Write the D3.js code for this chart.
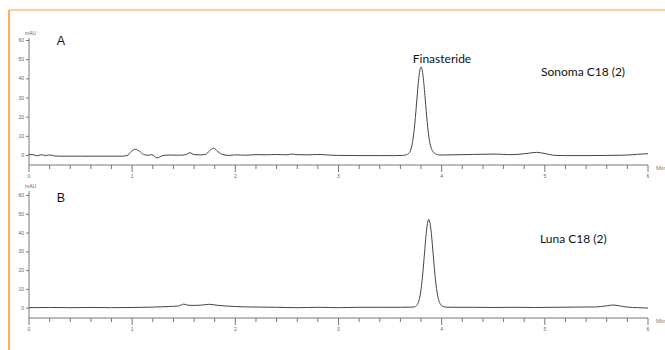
<!DOCTYPE html>
<html>
<head>
<meta charset="utf-8">
<script src="https://cdn.jsdelivr.net/npm/d3@7"></script>
<style>
  html, body { margin: 0; padding: 0; background: #fff; }
  svg { display: block; }
</style>
</head>
<body>
<svg id="chart" width="665" height="350"></svg>
<script>
// ---- Data ----
const yTicks = [0, 10, 20, 30, 40, 50, 60];
const xMajorTicks = [0, 1, 2, 3, 4, 5, 6];
const xMinorStep = 0.2;
const panelLabels = ["A", "B"];
const columnNames = ["Sonoma C18 (2)", "Luna C18 (2)"];
const peakName = "Finasteride";
const yUnit = "mAU";
const xUnit = "Min";

const timesA = [0, 0.04, 0.08, 0.12, 0.16, 0.2, 0.25, 0.3, 0.5, 0.7, 0.9, 0.95, 0.99, 1.03, 1.07, 1.11, 1.15, 1.19, 1.24, 1.29, 1.35, 1.45, 1.52, 1.56, 1.6, 1.66, 1.71, 1.75, 1.79, 1.83, 1.88, 1.94, 2.0, 2.1, 2.2, 2.3, 2.4, 2.5, 2.55, 2.6, 2.7, 2.8, 2.9, 3.0, 3.2, 3.4, 3.55, 3.62, 3.66, 3.68, 3.70, 3.72, 3.74, 3.76, 3.78, 3.80, 3.82, 3.84, 3.86, 3.88, 3.90, 3.92, 3.94, 3.96, 4.0, 4.1, 4.2, 4.3, 4.4, 4.53, 4.65, 4.75, 4.85, 4.92, 5.0, 5.1, 5.2, 5.4, 5.6, 5.8, 5.9, 6.0];
const valuesA = [0.3, 0.2, -0.4, 0.2, -0.3, 0.1, -0.5, -0.6, -0.6, -0.6, -0.6, -0.3, 1.8, 3.0, 2.0, 0.3, -0.1, 0.2, -1.5, -0.4, 0.0, -0.1, 0.2, 1.2, 0.2, 0.1, 0.3, 2.2, 3.6, 1.8, 0.2, -0.2, 0.1, -0.1, 0.2, 0.1, 0.3, 0.1, 0.5, 0.2, 0.1, 0.3, 0.0, -0.2, -0.3, -0.3, -0.3, -0.2, 0.2, 0.8, 2.7, 7.5, 16.6, 29.2, 41.1, 46.0, 41.1, 29.5, 17.0, 8.0, 3.5, 1.5, 0.6, 0.2, 0.0, 0.1, 0.2, 0.3, 0.4, 0.5, 0.2, 0.4, 1.0, 1.4, 0.8, -0.2, -0.3, -0.3, -0.2, 0.0, 0.4, 0.7];

const timesB = [0, 0.2, 0.4, 0.6, 0.8, 1.0, 1.2, 1.35, 1.45, 1.5, 1.54, 1.6, 1.68, 1.75, 1.82, 1.9, 2.0, 2.1, 2.25, 2.4, 2.6, 2.8, 3.0, 3.2, 3.4, 3.6, 3.72, 3.735, 3.755, 3.775, 3.795, 3.815, 3.835, 3.855, 3.875, 3.895, 3.915, 3.935, 3.955, 3.975, 3.995, 4.015, 4.04, 4.1, 4.3, 4.5, 4.7, 4.9, 5.1, 5.3, 5.5, 5.6, 5.66, 5.72, 5.8, 5.9, 6.0];
const valuesB = [0.0, 0.1, 0.0, 0.1, 0.0, 0.1, 0.3, 0.6, 0.9, 1.9, 1.3, 1.2, 1.4, 1.8, 1.3, 0.9, 0.6, 0.4, 0.3, 0.2, 0.0, 0.2, 0.0, 0.2, 0.2, 0.2, 0.3, 0.4, 1.0, 2.9, 7.8, 17.0, 30.0, 42.0, 47.0, 42.0, 30.2, 17.5, 8.3, 3.4, 1.4, 0.6, 0.3, 0.2, 0.2, 0.1, 0.2, 0.1, 0.2, 0.3, 0.4, 1.0, 1.4, 1.0, 0.3, 0.0, -0.2];

// ---- Layout ----
const svg = d3.select("#chart");
const frameColor = "#F5A033";
svg.append("line").attr("x1", 9).attr("x2", 665).attr("y1", 10).attr("y2", 10)
  .attr("stroke", frameColor).attr("stroke-width", 1.2);
svg.append("line").attr("x1", 9).attr("x2", 9).attr("y1", 10).attr("y2", 350)
  .attr("stroke", frameColor).attr("stroke-width", 1.6);

const panels = [
  { times: timesA, values: valuesA, label: panelLabels[0], name: columnNames[0],
    yTop: 40, yBottom: 165, yMin: -5.2, axisTop: 38,
    labelPos: [61, 45], namePos: [541, 76], peakLabel: true },
  { times: timesB, values: valuesB, label: panelLabels[1], name: columnNames[1],
    yTop: 195, yBottom: 318, yMin: -5.5, axisTop: 191,
    labelPos: [61, 202], namePos: [540, 243], peakLabel: false }
];

const axisColor = "#777";
const tickFont = "Liberation Sans, Arial, sans-serif";
const x = d3.scaleLinear().domain([0, 6]).range([29, 648]);
const minorTicks = d3.range(0, 6 + 1e-9, xMinorStep).map(v => Math.round(v * 10) / 10);

panels.forEach(p => {
  const y = d3.scaleLinear().domain([p.yMin, 60]).range([p.yBottom, p.yTop]);
  const g = svg.append("g");

  // y axis
  g.append("line").attr("x1", x(0)).attr("x2", x(0)).attr("y1", p.axisTop).attr("y2", p.yBottom)
    .attr("stroke", axisColor).attr("stroke-width", 1);
  const yAxis = d3.axisLeft(y).tickValues(yTicks).tickSize(3).tickPadding(2);
  const ya = g.append("g").attr("transform", `translate(${x(0)},0)`).call(yAxis);
  ya.select(".domain").remove();
  ya.selectAll("line").attr("stroke", axisColor);
  ya.selectAll("text").attr("fill", "#666").style("font-size", "5px").style("font-family", tickFont);

  // x axis
  g.append("line").attr("x1", x(0)).attr("x2", x(6)).attr("y1", p.yBottom).attr("y2", p.yBottom)
    .attr("stroke", axisColor).attr("stroke-width", 1);
  g.selectAll(".minor").data(minorTicks).join("line")
    .attr("x1", d => x(d)).attr("x2", d => x(d))
    .attr("y1", p.yBottom)
    .attr("y2", d => p.yBottom + (Math.abs(d - Math.round(d)) < 1e-6 ? 7 : 4))
    .attr("stroke", axisColor).attr("stroke-width", 1);
  g.selectAll(".xlab").data(xMajorTicks).join("text")
    .attr("x", d => x(d)).attr("y", p.yBottom + 13)
    .attr("text-anchor", "middle").attr("fill", "#666")
    .style("font-size", "5px").style("font-family", tickFont)
    .text(d => d);
  g.append("text").attr("x", 656).attr("y", p.yBottom + 5)
    .attr("fill", "#777").style("font-size", "6px").style("font-family", tickFont)
    .text(xUnit);
  g.append("text").attr("x", 25).attr("y", p.axisTop - 3)
    .attr("fill", "#666").style("font-size", "5px").style("font-family", tickFont)
    .text(yUnit);

  // trace
  const pts = p.times.map((t, i) => [t, p.values[i]]);
  const line = d3.line().x(d => x(d[0])).y(d => y(d[1])).curve(d3.curveMonotoneX);
  g.append("path").datum(pts).attr("d", line)
    .attr("fill", "none").attr("stroke", "#444").attr("stroke-width", 1);

  // labels
  g.append("text").attr("x", p.labelPos[0]).attr("y", p.labelPos[1])
    .attr("text-anchor", "middle").attr("fill", "#111")
    .style("font-size", "12.5px").style("font-family", "Liberation Sans, Arial, sans-serif")
    .text(p.label);
  g.append("text").attr("x", p.namePos[0]).attr("y", p.namePos[1])
    .attr("fill", "#111")
    .style("font-size", "12px").style("font-family", "Lato, 'Open Sans', sans-serif")
    .text(p.name);
  if (p.peakLabel) {
    g.append("text").attr("x", 442).attr("y", 63)
      .attr("text-anchor", "middle").attr("fill", "#111")
      .style("font-size", "12px").style("font-family", "Lato, 'Open Sans', sans-serif")
      .text(peakName);
  }
});
</script>
</body>
</html>
